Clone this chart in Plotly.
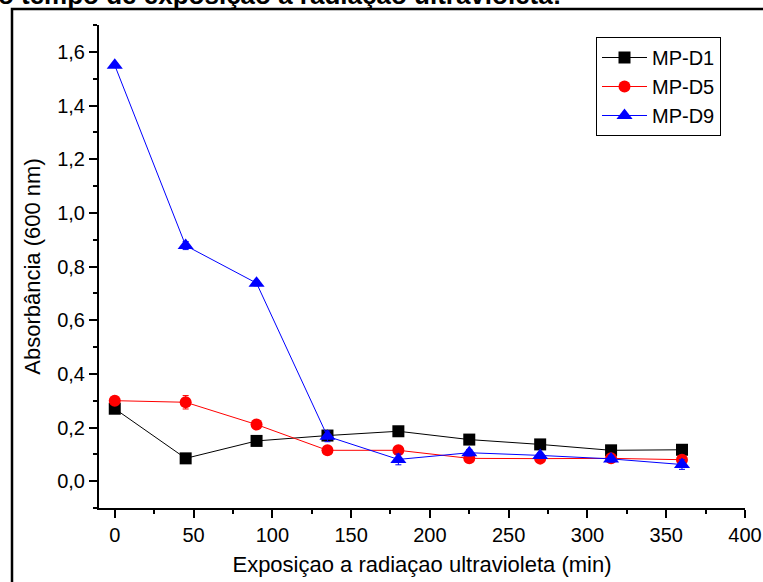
import plotly.graph_objects as go

# ---- data ----
time_min = [0, 45, 90, 135, 180, 225, 270, 315, 360]
mp_d1 = [0.27, 0.085, 0.15, 0.170, 0.186, 0.155, 0.137, 0.115, 0.117]
mp_d5 = [0.30, 0.294, 0.211, 0.115, 0.115, 0.085, 0.084, 0.085, 0.080]
mp_d9 = [1.55, 0.878, 0.738, 0.167, 0.081, 0.106, 0.096, 0.083, 0.062]
err_d1 = [0.005, 0.005, 0.005, 0.012, 0.005, 0.005, 0.005, 0.005, 0.005]
err_d5 = [0.005, 0.025, 0.008, 0.008, 0.008, 0.008, 0.008, 0.010, 0.010]
err_d9 = [0.008, 0.015, 0.010, 0.020, 0.020, 0.012, 0.010, 0.012, 0.018]
series_names = ["MP-D1", "MP-D5", "MP-D9"]
x_ticks = [0, 50, 100, 150, 200, 250, 300, 350, 400]
y_ticks = [0.0, 0.2, 0.4, 0.6, 0.8, 1.0, 1.2, 1.4, 1.6]
x_title = "Exposiçao a radiaçao ultravioleta (min)"
y_title = "Absorbância (600 nm)"
top_text = "do tempo de exposição à radiação ultravioleta:"

FONT = "Liberation Sans, Arial, sans-serif"
W, H = 763, 582
L, R, T, B = 99, 18, 25, 74
PW, PH = W - L - R, H - T - B

styles = [
    dict(color="#000000", symbol="square", size=12),
    dict(color="#FF0000", symbol="circle", size=12),
    dict(color="#0000FF", symbol="triangle-up", size=14),
]

fig = go.Figure()
for name, ys, errs, st in zip(series_names, [mp_d1, mp_d5, mp_d9],
                              [err_d1, err_d5, err_d9], styles):
    fig.add_trace(go.Scatter(
        x=time_min, y=ys, name=name, mode="lines+markers",
        line=dict(color=st["color"], width=1),
        marker=dict(color=st["color"], symbol=st["symbol"], size=st["size"],
                    line=dict(width=0)),
        error_y=dict(type="data", array=errs, visible=True,
                     color=st["color"], thickness=1, width=3),
    ))

axis_common = dict(showgrid=False, zeroline=False, showline=True,
                   linecolor="black", linewidth=2)

fig.update_layout(
    width=W, height=H,
    margin=dict(l=L, r=R, t=T, b=B, pad=0),
    paper_bgcolor="white", plot_bgcolor="white",
    separators=",.",
    font=dict(family=FONT, size=20, color="black"),
    showlegend=True,
    legend=dict(x=(596 - L) / PW, y=(508 - 37) / PH, xanchor="left", yanchor="top",
                bordercolor="black", borderwidth=1, bgcolor="white",
                font=dict(family=FONT, size=20, color="black"),
                tracegroupgap=0, itemsizing="trace", itemwidth=45),
    xaxis=dict(range=[-10, 400], tickvals=x_ticks, ticks="outside",
               ticklen=8, tickwidth=1.5, tickcolor="black",
               tickfont=dict(family=FONT, size=20, color="black"),
               minor=dict(dtick=25, tick0=0, ticks="outside", ticklen=4,
                          tickwidth=1.5, tickcolor="black"),
               title=dict(text=x_title, standoff=12,
                          font=dict(family=FONT, size=22, color="black")),
               automargin=False, **axis_common),
    yaxis=dict(range=[-0.1, 1.7], tickvals=y_ticks, tickformat=".1f",
               ticks="outside", ticklen=8, tickwidth=1.5, tickcolor="black",
               tickfont=dict(family=FONT, size=20, color="black"),
               minor=dict(dtick=0.1, tick0=0, ticks="outside", ticklen=4,
                          tickwidth=1.5, tickcolor="black"),
               title=dict(text=y_title, standoff=10,
                          font=dict(family=FONT, size=22, color="black")),
               automargin=False, **axis_common),
    xaxis2=dict(range=[-10, 400], overlaying="x", side="top", anchor="y",
                tickvals=x_ticks, ticks="inside", ticklen=5, tickwidth=1.5,
                tickcolor="black", showticklabels=False,
                minor=dict(dtick=25, tick0=0, ticks="inside", ticklen=3,
                           tickwidth=1.5, tickcolor="black"),
                **axis_common),
    yaxis2=dict(range=[-0.1, 1.7], overlaying="y", side="right", anchor="x",
                tickvals=y_ticks, ticks="inside", ticklen=5, tickwidth=1.5,
                tickcolor="black", showticklabels=False,
                minor=dict(dtick=0.1, tick0=0, ticks="inside", ticklen=3,
                           tickwidth=1.5, tickcolor="black"),
                **axis_common),
)

# outer frame (left and top edges visible in the cropped reference)
fig.add_shape(type="rect", xref="paper", yref="paper",
              x0=(12 - L) / PW, x1=1.5, y0=-0.5, y1=(T + PH - 9) / PH,
              line=dict(color="black", width=2.5), fillcolor="rgba(0,0,0,0)",
              layer="below")

# cropped caption at the very top
fig.add_annotation(text="<b>" + top_text + "</b>", xref="paper", yref="paper",
                   x=(563 - L) / PW, xanchor="right",
                   y=(T + PH - 12) / PH, yanchor="bottom",
                   showarrow=False,
                   font=dict(family=FONT, size=26, color="black"))

fig.write_html("out.html", config={"displayModeBar": False})

# remove the default page margin so the figure sits at the window's corner
with open("out.html", "r", encoding="utf-8") as f:
    html = f.read()
html = html.replace("<head>", "<head><style>html,body{margin:0;padding:0;overflow:hidden}</style>", 1)
with open("out.html", "w", encoding="utf-8") as f:
    f.write(html)
